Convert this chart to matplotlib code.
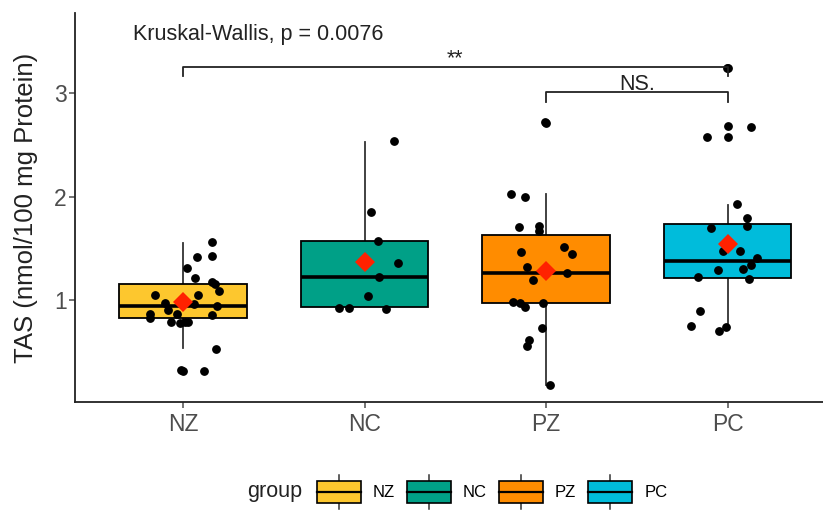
import matplotlib
matplotlib.use("Agg")
import matplotlib.pyplot as plt
from matplotlib.patches import Patch, Rectangle
from matplotlib.lines import Line2D
from matplotlib.legend_handler import HandlerBase
import numpy as np

plt.rcParams['font.family'] = ['Liberation Sans', 'DejaVu Sans']

groups = ['NZ', 'NC', 'PZ', 'PC']
colors = ['#FDC72E', '#00A087', '#FF8C00', '#00BCDB']

# box statistics per group
q1 = [0.829, 0.929, 0.968, 1.216]
med = [0.945, 1.225, 1.264, 1.377]
q3 = [1.152, 1.573, 1.628, 1.734]
whislo = [0.533, 0.929, 0.179, 0.736]
whishi = [1.548, 2.53, 2.02, 1.918]
means = [0.978, 1.37, 1.28, 1.538]

# raw observations and their horizontal jitter
nz_vals = [1.563, 1.418, 1.428, 1.312, 1.21, 1.171, 1.152, 1.09, 1.048, 1.048,
           0.968, 0.903, 0.961, 0.945, 0.862, 0.823, 0.862, 0.855, 0.79, 0.775,
           0.784, 0.79, 0.527, 0.317, 0.32, 0.317]
nz_jit = [0.158, 0.075, 0.161, 0.024, 0.066, 0.158, 0.176, 0.198, -0.154, 0.081,
          -0.099, -0.081, 0.062, 0.186, -0.182, -0.182, -0.035, 0.158, -0.068, -0.017,
          0.011, 0.029, 0.182, 0.002, -0.01, 0.117]

nc_vals = [2.536, 1.853, 1.573, 1.354, 1.219, 1.042, 0.92, 0.92, 0.913]
nc_jit = [0.16, 0.037, 0.074, 0.184, 0.079, 0.018, -0.142, -0.087, 0.116]

pz_vals = [2.713, 2.72, 2.024, 1.992, 1.708, 1.715, 1.67, 1.515, 1.44, 1.46,
           1.32, 1.264, 1.193, 0.984, 0.974, 0.935, 0.968, 0.727, 0.614, 0.559, 0.179]
pz_jit = [0.0, -0.006, -0.193, -0.116, -0.15, -0.039, -0.039, 0.101, 0.143, -0.139,
          -0.106, 0.118, -0.073, -0.18, -0.143, -0.116, -0.015, -0.024, -0.094, -0.106, 0.022]

pc_vals = [3.239, 3.245, 2.681, 2.572, 2.578, 2.668, 1.928, 1.789, 1.718, 1.699,
           1.473, 1.473, 1.409, 1.338, 1.3, 1.29, 1.2, 1.22, 0.897, 0.749, 0.704, 0.736]
pc_jit = [0.0, -0.005, 0.002, 0.002, -0.112, 0.127, 0.053, 0.105, 0.105, -0.09,
          -0.024, 0.066, 0.161, 0.127, 0.084, -0.05, 0.117, -0.161, -0.149, -0.2, -0.048, -0.007]

point_vals = [nz_vals, nc_vals, pz_vals, pc_vals]
point_jit = [nz_jit, nc_jit, pz_jit, pc_jit]

kw_label = 'Kruskal-Wallis, p = 0.0076'
# pairwise comparisons: (group a, group b, bracket height, label)
comparisons = [(1, 4, 3.254, '**'), (3, 4, 3.007, 'NS.')]

fig = plt.figure(figsize=(8.23, 5.12), dpi=100)
ax = fig.add_axes([75 / 823, 110 / 512, 748 / 823, 389 / 512])

positions = np.arange(1, len(groups) + 1)
stats = []
for i in range(len(groups)):
    stats.append(dict(q1=q1[i], med=med[i], q3=q3[i], whislo=whislo[i],
                      whishi=whishi[i], fliers=[]))

bp = ax.bxp(stats, positions=positions, widths=0.7, patch_artist=True,
            showcaps=False, showfliers=False,
            boxprops=dict(edgecolor='black', linewidth=1.3, zorder=2),
            medianprops=dict(color='black', linewidth=2.6, zorder=3),
            whiskerprops=dict(color='#333333', linewidth=1.3, zorder=1))
for patch, c in zip(bp['boxes'], colors):
    patch.set_facecolor(c)

for i in range(len(groups)):
    xs = positions[i] + np.array(point_jit[i])
    ax.plot(xs, point_vals[i], 'o', color='black', markersize=5.3, zorder=4)

ax.plot(positions, means, 'D', color='#FF2200', markersize=10.5,
        markeredgewidth=0, zorder=5)

# significance brackets
for a, b, h, lab in comparisons:
    ax.plot([a, a, b, b], [h - 0.09, h, h, h - 0.09], color='#222222',
            linewidth=1.3, zorder=4)
    ax.text((a + b) / 2, h + 0.022, lab, ha='center', va='baseline',
            fontsize=15.5, color='#222222')

ax.text(0.7245, 3.512, kw_label, ha='left', va='baseline', fontsize=15.5,
        color='#222222')

ax.set_xlim(0.405, 4.526)
ax.set_ylim(0.0145, 3.773)
ax.set_xticks(positions)
ax.set_xticklabels(groups)
ax.set_yticks([1, 2, 3])
ax.set_ylabel('TAS (nmol/100 mg Protein)', fontsize=18.5, color='#222222')
ax.yaxis.set_label_coords(-0.049, 0.5)

for side in ['top', 'right']:
    ax.spines[side].set_visible(False)
for side in ['left', 'bottom']:
    ax.spines[side].set_linewidth(1.3)
    ax.spines[side].set_color('#222222')
ax.tick_params(axis='both', colors='#4d4d4d', labelsize=16.5, length=4,
               width=1.1)
ax.tick_params(axis='x', pad=4)
ax.tick_params(axis='y', pad=2)


class BoxKey(HandlerBase):
    def create_artists(self, legend, orig_handle, xdescent, ydescent,
                       width, height, fontsize, trans):
        x0, y0 = -xdescent, -ydescent
        bh = height * 0.63
        by = y0 + (height - bh) / 2
        xm = x0 + width / 2
        wt = Line2D([xm, xm], [by + bh, y0 + height], color='#333333',
                    linewidth=1.1, transform=trans)
        wb = Line2D([xm, xm], [y0, by], color='#333333', linewidth=1.1,
                    transform=trans)
        rect = Rectangle((x0, by), width, bh,
                         facecolor=orig_handle.get_facecolor(),
                         edgecolor='black', linewidth=1.2, transform=trans)
        mline = Line2D([x0, x0 + width], [by + bh / 2] * 2, color='black',
                       linewidth=1.6, transform=trans)
        return [wt, wb, rect, mline]


handles = [Patch(facecolor=c) for c in colors]
fig.legend(handles, groups, ncol=4, loc='center left',
           bbox_to_anchor=(317 / 823, 20 / 512), frameon=False,
           fontsize=12, handlelength=2.64, handleheight=2.76,
           handletextpad=0.72, columnspacing=0.72, borderpad=0,
           borderaxespad=0, handler_map={Patch: BoxKey()})
fig.text(247 / 823, 20 / 512, 'group', ha='left', va='center',
         fontsize=15.5, color='#222222')

fig.savefig('out.png', dpi=100)
